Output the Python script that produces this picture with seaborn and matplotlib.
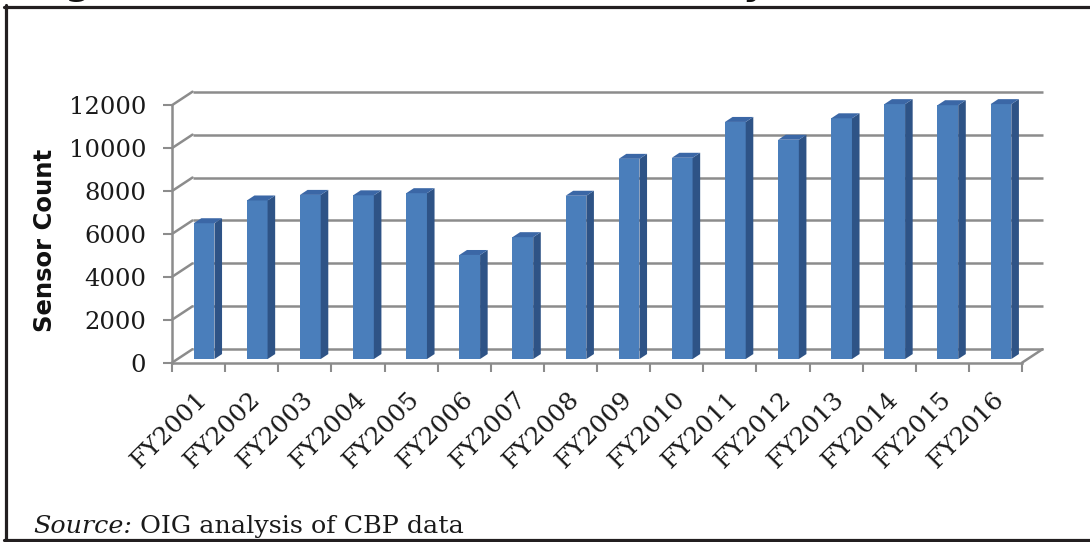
import numpy as np
import pandas as pd
import matplotlib
matplotlib.use("Agg")
import matplotlib.pyplot as plt
import matplotlib.transforms as mtransforms
from matplotlib.patches import Polygon
from matplotlib.lines import Line2D
import seaborn as sns

# ---- data ----
years = ["FY2001", "FY2002", "FY2003", "FY2004", "FY2005", "FY2006", "FY2007", "FY2008",
         "FY2009", "FY2010", "FY2011", "FY2012", "FY2013", "FY2014", "FY2015", "FY2016"]
sensor_counts = [6330, 7390, 7650, 7630, 7730, 4850, 5680, 7610,
                 9330, 9380, 11050, 10220, 11220, 11880, 11830, 11880]
y_ticks = [0, 2000, 4000, 6000, 8000, 10000, 12000]
y_label = "Sensor Count"
source_italic = "Source:"
source_rest = " OIG analysis of CBP data"
title_text = "Figure 5: Sensors Installed Annually, FY 2001\u2013FY 2016"

df = pd.DataFrame({"year": years, "count": sensor_counts})

sns.set_theme(style="white")
W, H, DPI = 1090, 542, 100
fig = plt.figure(figsize=(W / DPI, H / DPI), dpi=DPI)

# axes placement in pixels
px_left, px_right, px_top, px_bottom = 172, 1060, 80, 362.7
PX_PER_CAT = 53.125
PX_PER_UNIT = 257.5 / 12000
ax = fig.add_axes([px_left / W, (H - px_bottom) / H,
                   (px_right - px_left) / W, (px_bottom - px_top) / H])

FRONT = "#4a7ebb"
SIDE = "#2e5386"
TOP = "#3b67a6"
GRID = "#8c8c8c"

sns.barplot(data=df, x="year", y="count", color=FRONT, saturation=1, width=0.39,
            ax=ax, zorder=3, edgecolor="none")

xmin = -0.5
xmax = xmin + (px_right - px_left) / PX_PER_CAT
ymax = (px_bottom - px_top) / PX_PER_UNIT
ax.set_xlim(xmin, xmax)
ax.set_ylim(0, ymax)

# oblique depth offsets (data units)
DX = 20.5 / PX_PER_CAT
DY = 13.5 / PX_PER_UNIT
f1, f2 = 0.27, 0.64
w = f2 - f1

# shift bars into depth and add side / top faces
for p in list(ax.patches):
    x0 = p.get_x() + f1 * DX
    bw = p.get_width()
    h = p.get_height()
    y0 = f1 * DY
    p.set_x(x0)
    p.set_y(y0)
    p.set_clip_on(False)
    xr = x0 + bw
    side = Polygon([(xr, y0), (xr + w * DX, y0 + w * DY),
                    (xr + w * DX, y0 + h + w * DY), (xr, y0 + h)],
                   closed=True, facecolor=SIDE, edgecolor="none", zorder=3, clip_on=False)
    top = Polygon([(x0, y0 + h), (xr, y0 + h), (xr + w * DX, y0 + h + w * DY),
                   (x0 + w * DX, y0 + h + w * DY)],
                  closed=True, facecolor=TOP, edgecolor="none", zorder=3, clip_on=False)
    ax.add_patch(side)
    ax.add_patch(top)

# back wall gridlines + side-wall diagonals
n = len(years)
for k in y_ticks:
    ax.plot([xmin + DX, xmin + n + DX], [k + DY, k + DY], color=GRID, lw=1.8,
            zorder=1, clip_on=False, solid_capstyle="butt")
    ax.plot([xmin, xmin + DX], [k, k + DY], color=GRID, lw=1.8, zorder=1, clip_on=False)
ax.plot([xmin + n, xmin + n + DX], [0, DY], color=GRID, lw=1.8, zorder=1, clip_on=False)

# spines (front axis & floor edge)
for s in ["top", "right"]:
    ax.spines[s].set_visible(False)
for s in ["left", "bottom"]:
    ax.spines[s].set_color(GRID)
    ax.spines[s].set_linewidth(1.8)
ax.spines["left"].set_bounds(0, 12000)
ax.spines["bottom"].set_bounds(xmin, xmin + n)

serif = "DejaVu Serif"
ax.set_yticks(y_ticks)
ax.set_yticklabels([str(v) for v in y_ticks], fontfamily=serif, fontsize=17.5, color="#1a1a1a")
ax.tick_params(axis="y", direction="out", length=6.5, width=1.5, color=GRID, pad=12, left=True)

ax.set_xticks(range(n))
ax.set_xticks(np.arange(xmin, xmin + n + 0.01, 1), minor=True)
ax.set_xticklabels(years, fontfamily=serif, fontsize=18, color="#1a1a1a",
                   rotation=45, ha="right", va="top", rotation_mode="anchor")
ax.tick_params(axis="x", which="major", length=0, pad=18, bottom=True)
ax.tick_params(axis="x", which="minor", direction="out", length=6.5, width=1.5,
               color=GRID, bottom=True)
shift = mtransforms.ScaledTranslation(-3 / DPI, 0, fig.dpi_scale_trans)
for lab in ax.get_xticklabels():
    lab.set_transform(lab.get_transform() + shift)

ax.set_xlabel("")
ax.set_ylabel(y_label, fontsize=17.5, fontweight="bold", family="DejaVu Sans", color="#111111")
ax.yaxis.set_label_coords((57 - px_left) / (px_right - px_left),
                          (px_bottom - 240.5) / (px_bottom - px_top))
ax.grid(False)

# frame lines of the figure box
BOX = "#231f20"
fig.add_artist(Line2D([5.5 / W, 5.5 / W], [(H - 5) / H, (H - 541) / H], color=BOX, lw=2.3,
                      transform=fig.transFigure))
fig.add_artist(Line2D([4 / W, 1.0], [(H - 6.5) / H, (H - 6.5) / H], color=BOX, lw=2.3,
                      transform=fig.transFigure))
fig.add_artist(Line2D([4 / W, 1.0], [(H - 539.5) / H, (H - 539.5) / H], color=BOX, lw=2.3,
                      transform=fig.transFigure))

# clipped title above the frame (only descenders show, as in the reference)
fig.text(28 / W, (H + 4.5) / H, title_text, fontsize=26, fontweight="bold",
         family="DejaVu Sans", color="#111111", va="baseline", ha="left")

# source line
t1 = fig.text(33 / W, (H - 533) / H, source_italic, fontsize=18.3, family=serif,
              style="italic", color="#1a1a1a", va="baseline", ha="left")
ann = ax.annotate(source_rest, xy=(1, 0), xycoords=t1, fontsize=18.3, family=serif,
                  color="#1a1a1a", va="bottom", ha="left", annotation_clip=False)

fig.savefig("out.png", dpi=DPI)
